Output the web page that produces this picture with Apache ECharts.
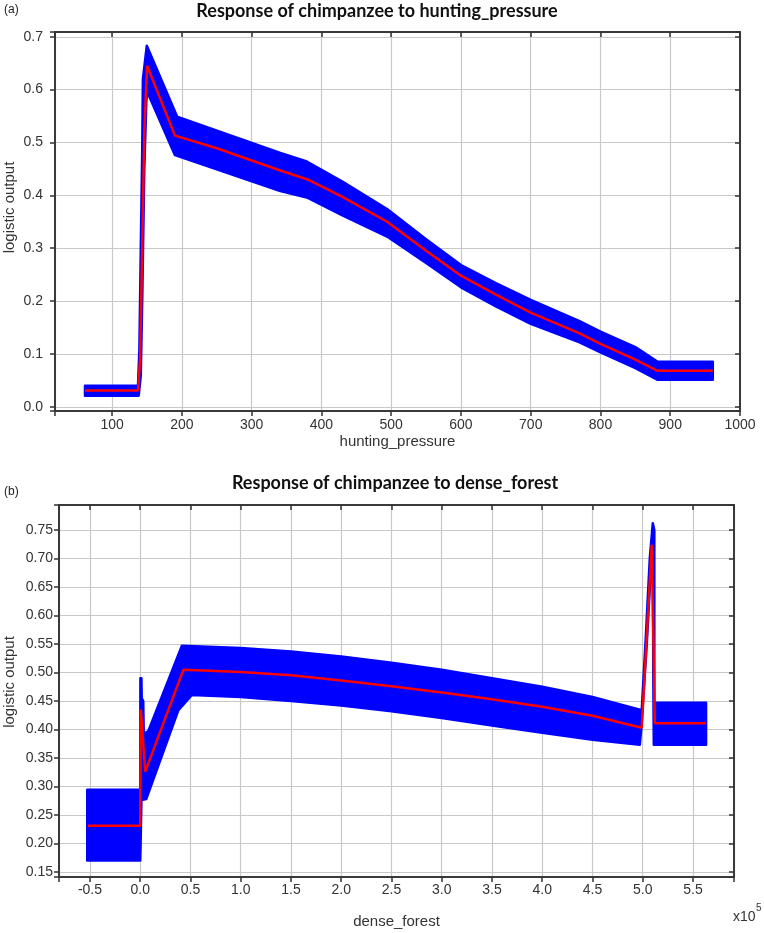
<!DOCTYPE html>
<html>
<head>
<meta charset="utf-8">
<script src="https://cdn.jsdelivr.net/npm/echarts@6/dist/echarts.min.js"></script>
<style>
  body { margin: 0; background: #fff; }
  #main { width: 764px; height: 933px; }
</style>
</head>
<body>
<div id="main"></div>
<script>
// (a) hunting_pressure : mean response + band edges, [x, logistic output]
var huntMean = [[61,0.031],[137,0.031],[140,0.09],[143,0.3],[146,0.52],[150,0.645],[190,0.513],[250,0.489],[300,0.466],[341,0.447],[380,0.430],[430,0.397],[494,0.350],[550,0.295],[600,0.248],[650,0.212],[700,0.178],[770,0.139],[800,0.119],[850,0.089],[882,0.068],[961,0.068]];
var huntUpper = [[61,0.040],[137,0.040],[139,0.11],[141,0.3],[143,0.48],[144,0.62],[149.6,0.683],[193,0.549],[341,0.480],[379,0.464],[430,0.426],[494,0.374],[550,0.317],[600,0.268],[650,0.234],[700,0.202],[770,0.162],[800,0.142],[850,0.113],[882,0.085],[961,0.085]];
var huntLower = [[61,0.021],[138,0.021],[141,0.06],[143,0.2],[146,0.45],[149,0.58],[150.5,0.595],[190,0.476],[341,0.408],[379,0.396],[430,0.362],[494,0.322],[550,0.272],[600,0.226],[650,0.19],[700,0.157],[770,0.122],[800,0.103],[850,0.073],[882,0.051],[961,0.051]];

// (b) dense_forest (x in units of 10^5)
var forestMean = [[-0.52,0.231],[0.0,0.231],[0.006,0.435],[0.05,0.326],[0.43,0.505],[1.0,0.501],[1.5,0.495],[2.0,0.486],[2.5,0.476],[3.0,0.465],[3.5,0.453],[4.0,0.440],[4.5,0.424],[4.99,0.403],[5.09,0.724],[5.12,0.411],[5.63,0.411]];
var forestUpper = [[-0.527,0.294],[0.0,0.294],[0.002,0.49],[0.012,0.49],[0.015,0.455],[0.03,0.45],[0.035,0.392],[0.08,0.397],[0.415,0.547],[1.0,0.543],[1.5,0.537],[2.0,0.528],[2.5,0.517],[3.0,0.505],[3.5,0.49],[4.0,0.475],[4.5,0.457],[4.99,0.434],[5.03,0.56],[5.07,0.70],[5.10,0.762],[5.115,0.75],[5.115,0.447],[5.63,0.447]];
var forestLower = [[-0.527,0.17],[0.0,0.17],[0.004,0.20],[0.012,0.276],[0.06,0.278],[0.38,0.434],[0.514,0.4605],[1.0,0.457],[1.5,0.45],[2.0,0.442],[2.5,0.432],[3.0,0.42],[3.5,0.407],[4.0,0.394],[4.5,0.382],[4.97,0.373],[4.985,0.40],[5.04,0.55],[5.08,0.68],[5.10,0.70],[5.105,0.5],[5.11,0.373],[5.63,0.373]];

var huntTicksX = { min: 18, max: 1000, step: 100, split: 10 };
var huntTicksY = { min: -0.008, max: 0.709, step: 0.1, split: 7 };
var forestTicksX = { min: -0.808, max: 5.908, step: 0.5, split: 13 };
var forestTicksY = { min: 0.141, max: 0.794, step: 0.05, split: 13 };

var tickFont = "'Liberation Sans', Arial, sans-serif";

function onStep(v, step) {
  return Math.abs(v / step - Math.round(v / step)) < 1e-6;
}

function makeAxis(gridIndex, t, pos, decimals, main, margin) {
  return {
    type: 'value',
    gridIndex: gridIndex,
    position: pos,
    min: t.min,
    max: t.max,
    splitNumber: t.split,
    nameMoveOverlap: false,
    axisLine: { show: true, onZero: false, lineStyle: { color: '#3a3a3a', width: 2 } },
    axisTick: { show: true, inside: !main, length: 5, lineStyle: { color: '#333', width: 1.5 } },
    axisLabel: {
      show: main,
      margin: margin,
      color: '#333',
      fontFamily: tickFont,
      fontSize: 14,
      showMinLabel: true,
      showMaxLabel: true,
      hideOverlap: false,
      formatter: function (v) {
        return onStep(v, t.step) ? v.toFixed(decimals) : '';
      }
    },
    splitLine: { show: main, lineStyle: { color: '#c8c8c8', width: 1.2 } }
  };
}

function band(xi, yi, upper, lower) {
  return {
    type: 'custom',
    xAxisIndex: xi,
    yAxisIndex: yi,
    silent: true,
    clip: true,
    data: [upper[0]],
    renderItem: function (params, api) {
      var pts = upper.map(function (p) { return api.coord(p); })
        .concat(lower.slice().reverse().map(function (p) { return api.coord(p); }));
      return {
        type: 'polygon',
        shape: { points: pts },
        style: { fill: '#0000ff', stroke: '#0000ff', lineWidth: 2.5, lineJoin: 'round' }
      };
    },
    z: 2
  };
}

function meanLine(xi, yi, data) {
  return {
    type: 'line',
    xAxisIndex: xi,
    yAxisIndex: yi,
    data: data,
    showSymbol: false,
    silent: true,
    lineStyle: { color: '#ff0000', width: 2.5 },
    z: 3
  };
}

var chart = echarts.init(document.getElementById('main'));

var xAxes = [
  makeAxis(0, huntTicksX, 'bottom', 0, true, 7),
  makeAxis(0, huntTicksX, 'top', 0, false, 0),
  makeAxis(1, forestTicksX, 'bottom', 1, true, 6),
  makeAxis(1, forestTicksX, 'top', 1, false, 0)
];
var yAxes = [
  makeAxis(0, huntTicksY, 'left', 1, true, 12),
  makeAxis(0, huntTicksY, 'right', 1, false, 0),
  makeAxis(1, forestTicksY, 'left', 2, true, 6),
  makeAxis(1, forestTicksY, 'right', 2, false, 0)
];

var nameStyle = { color: '#333', fontFamily: "'Liberation Sans', Arial, sans-serif", fontSize: 15 };
xAxes[0].name = 'hunting_pressure';
xAxes[0].nameLocation = 'middle';
xAxes[0].nameGap = 23;
xAxes[0].nameTextStyle = nameStyle;
xAxes[2].name = 'dense_forest';
xAxes[2].nameLocation = 'middle';
xAxes[2].nameGap = 37;
xAxes[2].nameTextStyle = nameStyle;
yAxes[0].name = 'logistic output';
yAxes[0].nameLocation = 'middle';
yAxes[0].nameGap = 38;
yAxes[0].nameTextStyle = Object.assign({}, nameStyle, { padding: [0, 0, 0, 28] });
yAxes[2].name = 'logistic output';
yAxes[2].nameLocation = 'middle';
yAxes[2].nameGap = 42;
yAxes[2].nameTextStyle = Object.assign({}, nameStyle, { padding: [0, 0, 0, 18] });

var titleFont = "bold 18px Lato, 'Open Sans', sans-serif";

var option = {
  animation: false,
  backgroundColor: '#fff',
  grid: [
    { left: 55, top: 32, width: 685, height: 379, outerBoundsMode: 'none', containLabel: false, show: true, backgroundColor: '#fff', borderWidth: 0 },
    { left: 59, top: 505, width: 675, height: 372, outerBoundsMode: 'none', containLabel: false, show: true, backgroundColor: '#fff', borderWidth: 0 }
  ],
  xAxis: xAxes,
  yAxis: yAxes,
  graphic: [
    { type: 'text', x: 4, y: 4, style: { text: '(a)', font: "12px 'Liberation Sans', Arial", fill: '#222' } },
    { type: 'text', x: 377, y: 11, style: { text: 'Response of chimpanzee to hunting_pressure', font: titleFont, fill: '#111', textAlign: 'center', textVerticalAlign: 'middle' } },
    { type: 'text', x: 4, y: 486, style: { text: '(b)', font: "12px 'Liberation Sans', Arial", fill: '#222' } },
    { type: 'text', x: 395, y: 483, style: { text: 'Response of chimpanzee to dense_forest', font: titleFont, fill: '#111', textAlign: 'center', textVerticalAlign: 'middle' } },
    { type: 'text', x: 733, y: 910, style: { text: 'x10', font: "14px 'Liberation Sans', Arial", fill: '#333' } },
    { type: 'text', x: 756, y: 903, style: { text: '5', font: "10px 'Liberation Sans', Arial", fill: '#333' } }
  ],
  series: [
    band(0, 0, huntUpper, huntLower),
    meanLine(0, 0, huntMean),
    band(2, 2, forestUpper, forestLower),
    meanLine(2, 2, forestMean)
  ]
};

chart.setOption(option);
</script>
</body>
</html>
